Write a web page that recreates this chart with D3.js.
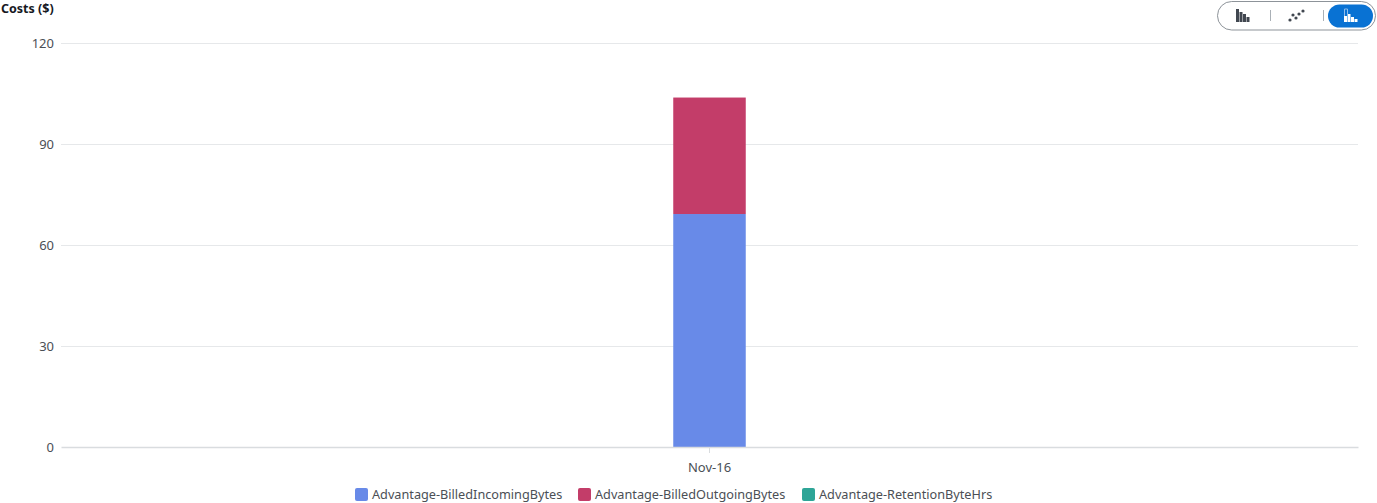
<!DOCTYPE html>
<html><head><meta charset="utf-8">
<script src="https://cdn.jsdelivr.net/npm/d3@7/dist/d3.min.js"></script>
<style>html,body{margin:0;padding:0;background:#fff;overflow:hidden}svg{display:block}text{font-family:"Noto Sans",sans-serif}</style>
</head><body><div id="chart"></div>
<script>
const categories = ["Nov-16"];
const seriesNames = ["Advantage-BilledIncomingBytes","Advantage-BilledOutgoingBytes","Advantage-RetentionByteHrs"];
const incoming = [69.2];
const outgoing = [34.6];
const retention = [0];
const seriesValues = [incoming, outgoing, retention];
const seriesColors = ["#688ae8","#c33d69","#2ea597"];
const yTicks = [0,30,60,90,120];
const yTitle = "Costs ($)";

const W=1377,H=503;
const svg=d3.select("#chart").append("svg").attr("width",W).attr("height",H);
const x=d3.scaleBand().domain(categories).range([61,1358]);
const y=d3.scaleLinear().domain([0,120]).range([447,43]);
const barW=72.5;

// grid
svg.append("g").selectAll("line").data(yTicks.filter(d=>d>0)).join("line")
  .attr("x1",61).attr("x2",1358).attr("y1",d=>y(d)+.5).attr("y2",d=>y(d)+.5)
  .attr("stroke","#e6e8ea").attr("stroke-width",1);

// y axis
const yAxis=svg.append("g").attr("transform","translate(61,0)")
  .call(d3.axisLeft(y).tickValues(yTicks).tickSize(0).tickPadding(7));
yAxis.select(".domain").remove();
yAxis.selectAll("text").attr("font-size",13).attr("fill","#4b4f55").style("font-family",'"Noto Sans",sans-serif');

svg.append("text").attr("x",1).attr("y",13).attr("font-size",12.5).attr("font-weight",700)
  .attr("fill","#16191f").text(yTitle);

// bars
const stacked=d3.stack().keys(d3.range(seriesNames.length)).value((i,k)=>seriesValues[k][i])(categories.map((c,i)=>i));
svg.append("g").selectAll("g").data(stacked).join("g").attr("fill",(d,i)=>seriesColors[i])
  .selectAll("rect").data(d=>d).join("rect")
  .attr("x",(d,i)=>x(categories[i])+x.bandwidth()/2-barW/2).attr("width",barW)
  .attr("y",d=>y(d[1])).attr("height",d=>y(d[0])-y(d[1]));

// x axis
const xAxis=svg.append("g").attr("transform","translate(0,447)")
  .call(d3.axisBottom(x).tickSizeInner(6).tickSizeOuter(0).tickPadding(10));
xAxis.select(".domain").attr("stroke","#d9dcdf").attr("stroke-width",1.5);
xAxis.selectAll("line").attr("stroke","#d9dcdf");
xAxis.selectAll("text").attr("font-size",13).attr("fill","#4b4f55").style("font-family",'"Noto Sans",sans-serif');

// legend
const legendX=[355,578,802];
const lg=svg.append("g").selectAll("g").data(seriesNames).join("g")
  .attr("transform",(d,i)=>`translate(${legendX[i]},488)`);
lg.append("rect").attr("width",13).attr("height",13).attr("rx",2).attr("fill",(d,i)=>seriesColors[i]);
lg.append("text").attr("x",17).attr("y",11).attr("font-size",12.7).attr("fill","#4b4f55").text(d=>d);

// view toggle control
const c=svg.append("g");
c.append("rect").attr("x",1217.5).attr("y",1.5).attr("width",158).attr("height",28.5).attr("rx",14.2)
  .attr("fill","#fff").attr("stroke","#8d9399").attr("stroke-width",1);
c.append("rect").attr("x",1328).attr("y",4.5).attr("width",45).attr("height",23).attr("rx",11.5).attr("fill","#0972d3");
[1270.5,1323.5].forEach(px=>c.append("line").attr("x1",px).attr("x2",px).attr("y1",10).attr("y2",21).attr("stroke","#aab0b6"));
const barsIcon=(x0,col)=>[[0,13],[3.5,10],[7,8],[10.5,5]].forEach(([dx,h])=>c.append("rect").attr("x",x0+dx).attr("y",22-h).attr("width",3).attr("height",h).attr("fill",col));
barsIcon(1236,"#414750");
[[1290,20],[1293,15],[1296,18],[1299,14],[1303,11]].forEach(([a,b])=>c.append("circle").attr("cx",a).attr("cy",b).attr("r",1.6).attr("fill","#414750"));
[[0,6],[3.5,8],[7,5],[10.5,3]].forEach(([dx,h])=>c.append("rect").attr("x",1344+dx).attr("y",22-h).attr("width",3).attr("height",h).attr("fill","#fff"));
c.append("path").attr("d","M1344.5 9v7M1344.5 9h3v5").attr("fill","none").attr("stroke","#8fbdec").attr("stroke-width",1);
</script></body></html>
